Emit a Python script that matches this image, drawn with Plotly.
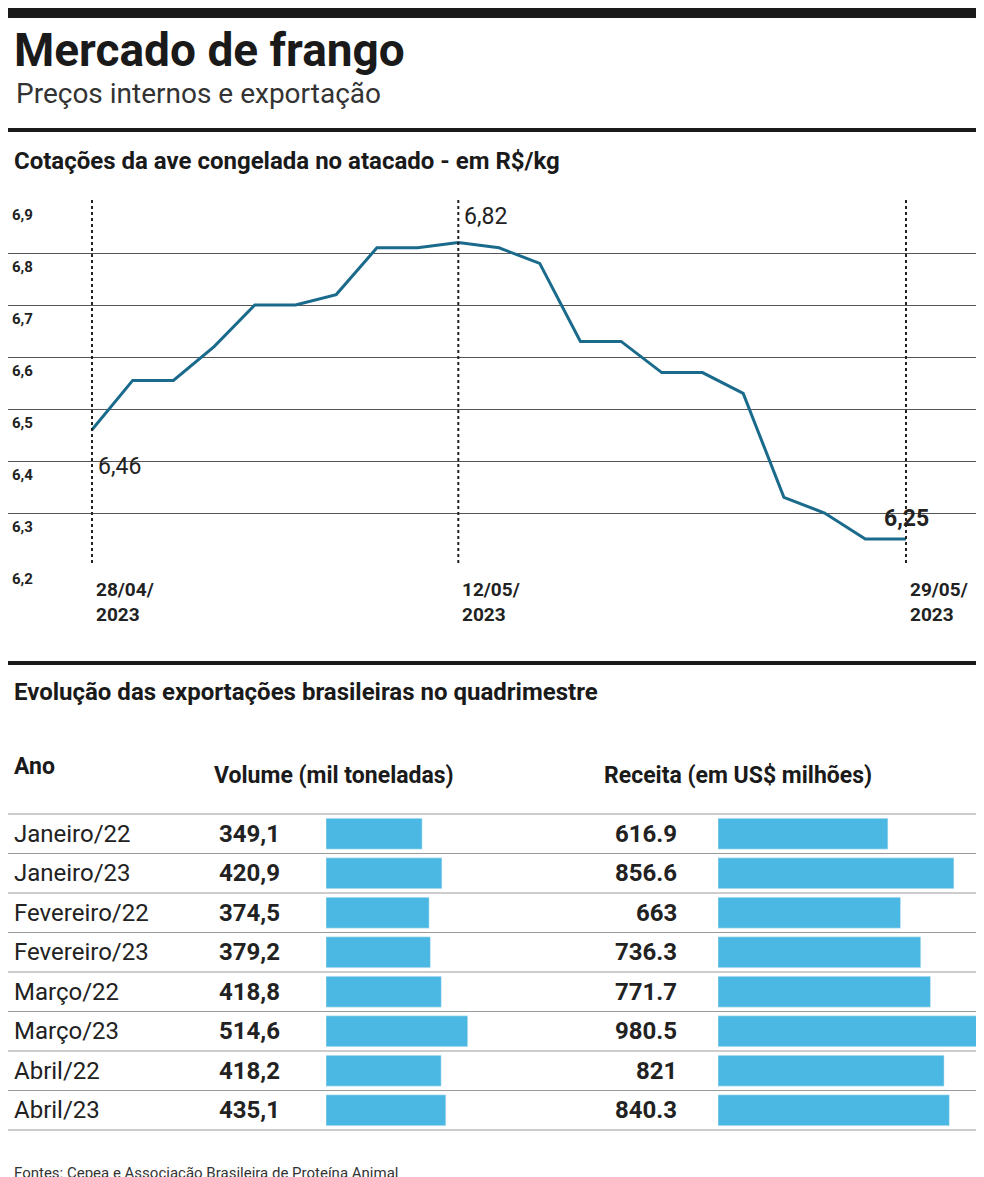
import plotly.graph_objects as go

# line chart data
dates = ["28/04", "02/05", "03/05", "04/05", "05/05", "08/05", "09/05", "10/05", "11/05", "12/05",
         "15/05", "16/05", "17/05", "18/05", "19/05", "22/05", "23/05", "24/05", "25/05", "26/05", "29/05"]
prices = [6.46, 6.555, 6.555, 6.62, 6.70, 6.70, 6.72, 6.81, 6.81, 6.82,
          6.81, 6.78, 6.63, 6.63, 6.57, 6.57, 6.53, 6.33, 6.30, 6.25, 6.25]
y_ticks = [6.2, 6.3, 6.4, 6.5, 6.6, 6.7, 6.8, 6.9]
x_ticks = [0, 9, 20]
x_tick_labels = ["28/04/<br>2023", "12/05/<br>2023", "29/05/<br>2023"]

# table data
months = ["Janeiro/22", "Janeiro/23", "Fevereiro/22", "Fevereiro/23",
          "Março/22", "Março/23", "Abril/22", "Abril/23"]
volume = [349.1, 420.9, 374.5, 379.2, 418.8, 514.6, 418.2, 435.1]
volume_txt = ["349,1", "420,9", "374,5", "379,2", "418,8", "514,6", "418,2", "435,1"]
receita = [616.9, 856.6, 663, 736.3, 771.7, 980.5, 821, 840.3]
receita_txt = ["616.9", "856.6", "663", "736.3", "771.7", "980.5", "821", "840.3"]

W, H = 984, 1177
FONT = "Liberation Sans Narrow, Roboto, sans-serif"
BLUE = "#1a6a8c"
BAR = "#4ab8e2"


def px(x):
    return min(x / W, 1)


def py(y):
    return 1 - y / H


fig = go.Figure()

fig.add_trace(go.Scatter(x=list(range(len(prices))), y=prices, mode="lines",
                         line=dict(color=BLUE, width=3), xaxis="x", yaxis="y",
                         hoverinfo="skip", showlegend=False))

fig.add_trace(go.Bar(x=volume, y=months, orientation="h", marker_color=BAR, width=0.78,
                     xaxis="x2", yaxis="y2", showlegend=False))
fig.add_trace(go.Bar(x=receita, y=months, orientation="h", marker_color=BAR, width=0.78,
                     xaxis="x3", yaxis="y3", showlegend=False))

# line chart scale: index 0 at px 84, index 20 at px 898
unit = (898 - 84) / 20
x_lo = -84 / unit
x_hi = x_lo + 976 / unit

shapes = []
annotations = []

# horizontal rules
shapes.append(dict(type="rect", xref="paper", yref="paper", x0=0, x1=1, y0=py(10), y1=1,
                   fillcolor="#1a1a1a", line_width=0))
for yy in [122, 655]:
    shapes.append(dict(type="line", xref="paper", yref="paper", x0=0, x1=px(980), y0=py(yy), y1=py(yy),
                       line=dict(color="#1a1a1a", width=4)))

# vertical dotted lines
for i in x_ticks:
    shapes.append(dict(type="line", xref="x", yref="paper", x0=i, x1=i, y0=py(555), y1=py(190),
                       line=dict(color="#222", width=2, dash="dot")))

# table row separators
row_top = 806
row_h = 39.5
for k in range(len(months) + 1):
    yy = row_top + k * row_h
    shapes.append(dict(type="line", xref="paper", yref="paper", x0=0, x1=px(980), y0=py(yy), y1=py(yy),
                       line=dict(color="#999", width=1)))

# y tick labels for line chart
for v in y_ticks:
    pix = 557 - (v - 6.2) / 0.7 * (557 - 193)
    annotations.append(dict(text="<b>" + f"{v:.1f}".replace(".", ",") + "</b>", xref="paper", yref="paper",
                            x=px(2), y=py(pix + 14), xanchor="left", yanchor="middle", showarrow=False,
                            font=dict(size=15, family=FONT, color="#222")))
for i, lab in zip(x_ticks, x_tick_labels):
    annotations.append(dict(text="<b>" + lab + "</b>", xref="x", yref="paper", x=i + 0.05, y=py(568),
                            xanchor="left", yanchor="top", showarrow=False, align="left",
                            font=dict(size=19, family=FONT, color="#222")))

# value labels on line
annotations += [
    dict(text="6,46", xref="x", yref="y", x=0.1, y=6.39, xanchor="left", showarrow=False,
         font=dict(size=23, family=FONT, color="#222")),
    dict(text="6,82", xref="x", yref="y", x=9.1, y=6.87, xanchor="left", showarrow=False,
         font=dict(size=23, family=FONT, color="#222")),
    dict(text="<b>6,25</b>", xref="x", yref="y", x=19.4, y=6.29, xanchor="left", showarrow=False,
         font=dict(size=23, family=FONT, color="#222")),
]

# titles
annotations += [
    dict(text="<b>Mercado de frango</b>", xref="paper", yref="paper", x=px(4), y=py(42),
         xanchor="left", yanchor="middle", showarrow=False, font=dict(size=46, family=FONT, color="#1a1a1a")),
    dict(text="Preços internos e exportação", xref="paper", yref="paper", x=px(6), y=py(86),
         xanchor="left", yanchor="middle", showarrow=False, font=dict(size=28, family=FONT, color="#333")),
    dict(text="<b>Cotações da ave congelada no atacado - em R$/kg</b>", xref="paper", yref="paper",
         x=px(4), y=py(153), xanchor="left", yanchor="middle", showarrow=False,
         font=dict(size=24, family=FONT, color="#1a1a1a")),
    dict(text="<b>Evolução das exportações brasileiras no quadrimestre</b>", xref="paper", yref="paper",
         x=px(4), y=py(684), xanchor="left", yanchor="middle", showarrow=False,
         font=dict(size=24, family=FONT, color="#1a1a1a")),
    dict(text="<b>Ano</b>", xref="paper", yref="paper", x=px(4), y=py(758), xanchor="left",
         yanchor="middle", showarrow=False, font=dict(size=23, family=FONT, color="#1a1a1a")),
    dict(text="<b>Volume (mil toneladas)</b>", xref="paper", yref="paper", x=px(204), y=py(767),
         xanchor="left", yanchor="middle", showarrow=False, font=dict(size=23, family=FONT, color="#1a1a1a")),
    dict(text="<b>Receita (em US$ milhões)</b>", xref="paper", yref="paper", x=px(594), y=py(767),
         xanchor="left", yanchor="middle", showarrow=False, font=dict(size=23, family=FONT, color="#1a1a1a")),
    dict(text="Fontes: Cepea e Associação Brasileira de Proteína Animal", xref="paper", yref="paper",
         x=px(4), y=py(1165), xanchor="left", yanchor="middle", showarrow=False,
         font=dict(size=15, family=FONT, color="#333")),
]

# table text
for k, m in enumerate(months):
    yc = row_top + (k + 0.5) * row_h
    annotations.append(dict(text=m, xref="paper", yref="paper", x=px(4), y=py(yc), xanchor="left",
                            yanchor="middle", showarrow=False, font=dict(size=24, family=FONT, color="#222")))
    annotations.append(dict(text="<b>" + volume_txt[k] + "</b>", xref="paper", yref="paper", x=px(274),
                            y=py(yc), xanchor="right", yanchor="middle", showarrow=False,
                            font=dict(size=24, family=FONT, color="#222")))
    annotations.append(dict(text="<b>" + receita_txt[k] + "</b>", xref="paper", yref="paper", x=px(671),
                            y=py(yc), xanchor="right", yanchor="middle", showarrow=False,
                            font=dict(size=24, family=FONT, color="#222")))

# both bar columns share the same scale: 980.5 spans 270 px
bar_px = 270
bar_max = 980.5
ax_hidden = dict(showgrid=False, zeroline=False, showticklabels=False, ticks="", showline=False)

fig.update_layout(
    width=W, height=H, margin=dict(l=0, r=0, t=0, b=0),
    paper_bgcolor="white", plot_bgcolor="rgba(0,0,0,0)",
    xaxis=dict(domain=[0, px(976)], range=[x_lo, x_hi], **ax_hidden),
    yaxis=dict(domain=[py(557), py(193)], range=[6.2, 6.9], tickvals=y_ticks, showgrid=True,
               gridcolor="#555", gridwidth=1, zeroline=False, showticklabels=False, ticks=""),
    xaxis2=dict(domain=[px(318), px(318 + bar_px)], range=[0, bar_max], anchor="y2", **ax_hidden),
    yaxis2=dict(domain=[py(row_top + 8 * row_h), py(row_top)], autorange="reversed", anchor="x2",
                **ax_hidden),
    xaxis3=dict(domain=[px(710), px(710 + bar_px)], range=[0, bar_max], anchor="y3", **ax_hidden),
    yaxis3=dict(domain=[py(row_top + 8 * row_h), py(row_top)], autorange="reversed", anchor="x3",
                **ax_hidden),
    bargap=0.2,
    shapes=shapes, annotations=annotations,
)

fig.write_html("out.html")
